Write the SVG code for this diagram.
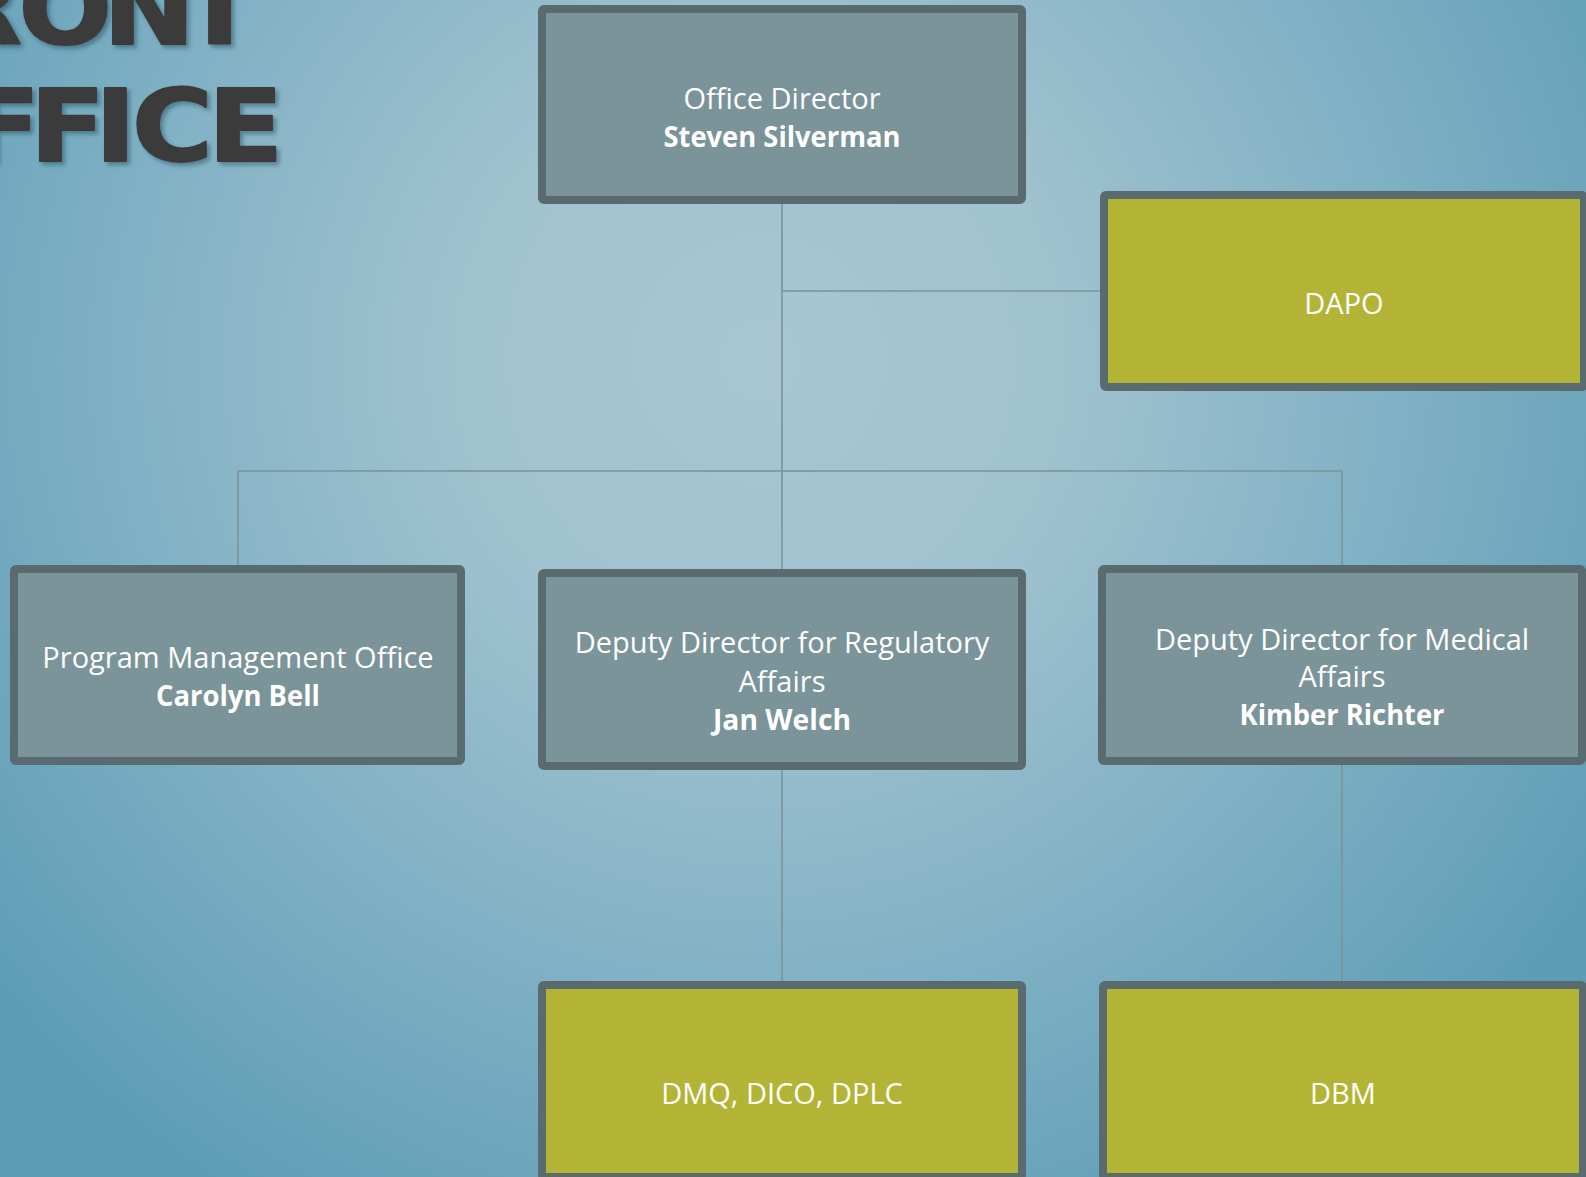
<svg xmlns="http://www.w3.org/2000/svg" width="1586" height="1177" viewBox="0 0 1586 1177">
<defs>
<radialGradient id="bg" gradientUnits="userSpaceOnUse" cx="760" cy="360" r="980">
<stop offset="0" stop-color="#a8c6d3"/>
<stop offset="0.3" stop-color="#a1c2cf"/>
<stop offset="0.65" stop-color="#80b1c4"/>
<stop offset="1" stop-color="#5f9db6"/>
</radialGradient>
<filter id="sh" x="-20%" y="-20%" width="140%" height="140%">
<feDropShadow dx="3" dy="3" stdDeviation="2" flood-color="#1d3a48" flood-opacity="0.45"/>
</filter>
<style>
.gray{fill:#7b9499;stroke:#5a6b6f;stroke-width:8}
.olive{fill:#b3b435;stroke:#5a6b6f;stroke-width:8}
.t{font-family:"Open Sans","Noto Sans","DejaVu Sans",sans-serif;font-size:29px;fill:#ffffff;text-anchor:middle}
.b{font-weight:700}
.conn{fill:none;stroke:#7a9499;stroke-width:1.6}
.title{font-family:"DejaVu Sans","Liberation Sans",sans-serif;font-weight:700;font-size:100px;fill:#3b3b3b;stroke:#3b3b3b;stroke-width:2;stroke-linejoin:round}
</style>
</defs>
<rect x="0" y="0" width="1586" height="1177" fill="url(#bg)"/>
<g id="title" filter="url(#sh)">
<g transform="scale(1.1,1)">
<text class="title" x="-137 -57.3 16.9 93.6 165.5" y="44">FRONT</text>
<text class="title" x="-118 -31.8 27.3 86.4 120 189.1" y="161">OFFICE</text>
</g>
</g>
<g id="connectors">
<path class="conn" d="M782 204 V569"/>
<path class="conn" d="M782 291 H1101"/>
<path class="conn" d="M238 565 V471 H1342 V565"/>
<path class="conn" d="M782 770 V981"/>
<path class="conn" d="M1342 765 V981"/>
</g>
<g id="office-director">
<rect class="gray" x="542" y="9" width="480" height="191" rx="2"/>
<text class="t" x="782" y="109">Office Director</text>
<text class="t b" x="782" y="147" textLength="237" lengthAdjust="spacingAndGlyphs">Steven Silverman</text>
</g>
<g id="dapo">
<rect class="olive" x="1104" y="195" width="480" height="192" rx="2"/>
<text class="t" x="1344" y="314">DAPO</text>
</g>
<g id="pmo">
<rect class="gray" x="14" y="569" width="447" height="192" rx="2"/>
<text class="t" x="238" y="668">Program Management Office</text>
<text class="t b" x="238" y="706" textLength="164" lengthAdjust="spacingAndGlyphs">Carolyn Bell</text>
</g>
<g id="ddra">
<rect class="gray" x="542" y="573" width="480" height="193" rx="2"/>
<text class="t" x="782" y="653">Deputy Director for Regulatory</text>
<text class="t" x="782" y="692">Affairs</text>
<text class="t b" x="782" y="730" textLength="138" lengthAdjust="spacingAndGlyphs">Jan Welch</text>
</g>
<g id="ddma">
<rect class="gray" x="1102" y="569" width="480" height="192" rx="2"/>
<text class="t" x="1342" y="650">Deputy Director for Medical</text>
<text class="t" x="1342" y="687">Affairs</text>
<text class="t b" x="1342" y="725" textLength="205" lengthAdjust="spacingAndGlyphs">Kimber Richter</text>
</g>
<g id="dmq">
<rect class="olive" x="542" y="985" width="480" height="192" rx="2"/>
<text class="t" x="782" y="1104">DMQ, DICO, DPLC</text>
</g>
<g id="dbm">
<rect class="olive" x="1103" y="985" width="480" height="192" rx="2"/>
<text class="t" x="1343" y="1104">DBM</text>
</g>
</svg>
